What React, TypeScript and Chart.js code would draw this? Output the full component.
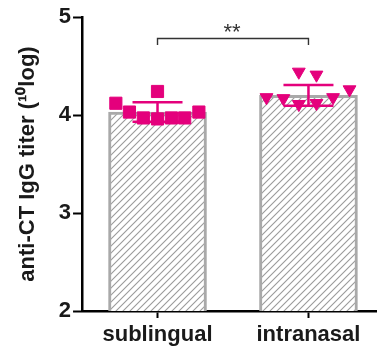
import React, { useEffect, useRef } from 'react';
import { Chart, registerables } from 'chart.js';

Chart.register(...registerables);

// ---- data ----
const categories = ['sublingual', 'intranasal'];
const barMeans = [4.03, 4.2];
const barSD = [0.1, 0.105];
const sublingualX = [-0.276, -0.186, -0.094, 0, 0, 0.092, 0.18, 0.274];
const sublingualY = [4.12, 4.03, 3.97, 4.24, 3.96, 3.97, 3.97, 4.03];
const intranasalX = [-0.278, -0.166, -0.064, -0.064, 0.053, 0.053, 0.163, 0.272];
const intranasalY = [4.18, 4.17, 4.44, 4.11, 4.41, 4.12, 4.18, 4.26];
const yMin = 2;
const yMax = 5;
const yStep = 1;
const yTitle = 'anti-CT IgG titer (¹⁰log)';
const significance = '**';
const bracketLevel = 4.78;
const bracketDrop = 4.715;

const MAGENTA = '#E4007C';
const FONT = '"Liberation Sans", Arial, Helvetica, sans-serif';
const TEXT = '#1a1a1a';

const errorBarPlugin = {
  id: 'errorBars',
  afterDatasetDraw(chart: any, args: any) {
    if (args.index !== 2) return;
    const { ctx } = chart;
    const x = chart.scales.x;
    const y = chart.scales.y;
    ctx.save();
    ctx.strokeStyle = MAGENTA;
    ctx.lineWidth = 2.5;
    barMeans.forEach((m, i) => {
      const cx = x.getPixelForValue(i);
      const yt = y.getPixelForValue(m + barSD[i]);
      const yb = y.getPixelForValue(m - barSD[i]);
      const half = 25;
      ctx.beginPath();
      ctx.moveTo(cx, yt);
      ctx.lineTo(cx, yb);
      ctx.moveTo(cx - half, yt);
      ctx.lineTo(cx + half, yt);
      ctx.moveTo(cx - half, yb);
      ctx.lineTo(cx + half, yb);
      ctx.stroke();
    });
    ctx.restore();
  },
};

const bracketPlugin = {
  id: 'sigBracket',
  afterDraw(chart: any) {
    const { ctx } = chart;
    const x = chart.scales.x;
    const y = chart.scales.y;
    const x0 = x.getPixelForValue(0);
    const x1 = x.getPixelForValue(1);
    const yl = y.getPixelForValue(bracketLevel);
    const yd = y.getPixelForValue(bracketDrop);
    ctx.save();
    ctx.strokeStyle = '#333';
    ctx.lineWidth = 1.4;
    ctx.beginPath();
    ctx.moveTo(x0, yd);
    ctx.lineTo(x0, yl);
    ctx.lineTo(x1, yl);
    ctx.lineTo(x1, yd);
    ctx.stroke();
    ctx.fillStyle = '#333';
    ctx.font = `22px ${FONT}`;
    ctx.textAlign = 'center';
    ctx.textBaseline = 'alphabetic';
    ctx.fillText(significance, (x0 + x1) / 2 - 1, yl);
    ctx.restore();
  },
};

function makeHatch(ctx: CanvasRenderingContext2D) {
  const s = 7;
  const c = document.createElement('canvas');
  c.width = s;
  c.height = s;
  const g = c.getContext('2d')!;
  g.fillStyle = '#fff';
  g.fillRect(0, 0, s, s);
  g.strokeStyle = '#9a9a9a';
  g.lineWidth = 1.1;
  g.beginPath();
  g.moveTo(-1, s + 1);
  g.lineTo(s + 1, -1);
  g.moveTo(-1, 1);
  g.lineTo(1, -1);
  g.moveTo(s - 1, s + 1);
  g.lineTo(s + 1, s - 1);
  g.stroke();
  return ctx.createPattern(c, 'repeat');
}

export default function App() {
  const ref = useRef<HTMLCanvasElement>(null);
  useEffect(() => {
    const canvas = ref.current!;
    const ctx = canvas.getContext('2d')!;
    const hatch = makeHatch(ctx);
    const chart = new Chart(ctx, {
      type: 'bar',
      data: {
        datasets: [
          {
            type: 'scatter',
            label: 'sublingual points',
            data: sublingualY.map((v, i) => ({ x: 0 + sublingualX[i], y: v })),
            pointStyle: 'rect',
            pointRadius: 8.6,
            pointBorderWidth: 1,
            backgroundColor: MAGENTA,
            borderColor: MAGENTA,
          } as any,
          {
            type: 'scatter',
            label: 'intranasal points',
            data: intranasalY.map((v, i) => ({ x: 1 + intranasalX[i], y: v })),
            pointStyle: 'triangle',
            rotation: 180,
            pointRadius: 7.4,
            pointBorderWidth: 1,
            backgroundColor: MAGENTA,
            borderColor: MAGENTA,
          } as any,
          {
            type: 'bar',
            label: 'mean',
            data: barMeans.map((v, i) => ({ x: i, y: v })),
            backgroundColor: hatch as any,
            borderColor: '#a9a9a9',
            borderWidth: 3,
            barThickness: 98,
          } as any,
        ],
      },
      options: {
        responsive: false,
        animation: false,
        events: [],
        layout: { autoPadding: false, padding: { top: 17, left: 0, right: 0, bottom: 0 } },
        plugins: {
          legend: { display: false },
          tooltip: { enabled: false },
        },
        scales: {
          x: {
            type: 'linear',
            min: -0.5,
            max: 1.454,
            offset: false,
            afterBuildTicks: (scale: any) => {
              scale.ticks = categories.map((_, i) => ({ value: i }));
            },
            afterFit: (scale: any) => {
              scale.height = 35;
            },
            grid: {
              display: true,
              offset: false,
              drawOnChartArea: false,
              drawTicks: true,
              tickLength: 7,
              color: '#000',
              tickWidth: 2,
            },
            border: { display: true, color: '#000', width: 2.5 },
            ticks: {
              callback: (v: any) => categories[Math.round(Number(v))] ?? '',
              font: { family: FONT, size: 22, weight: 'bold', lineHeight: 1.0 },
              color: TEXT,
              padding: 6,
              maxRotation: 0,
              autoSkip: false,
            },
          },
          y: {
            type: 'linear',
            min: yMin,
            max: yMax,
            ticks: {
              stepSize: yStep,
              font: { family: FONT, size: 22, weight: 'bold' },
              color: TEXT,
              padding: 2,
            },
            grid: {
              display: true,
              drawOnChartArea: false,
              drawTicks: true,
              tickLength: 9,
              color: '#000',
              tickWidth: 2,
            },
            border: { display: true, color: '#000', width: 2.5 },
            title: {
              display: true,
              text: yTitle,
              font: { family: FONT, size: 22, weight: 'bold' },
              color: TEXT,
              padding: { top: 14.8, bottom: 15.6 },
            },
          },
        },
      },
      plugins: [errorBarPlugin, bracketPlugin],
    } as any);
    return () => chart.destroy();
  }, []);
  return (
    <div style={{ position: 'fixed', left: 0, top: 0, width: 377, height: 346, background: '#fff' }}>
      <canvas ref={ref} width={377} height={346} />
    </div>
  );
}
